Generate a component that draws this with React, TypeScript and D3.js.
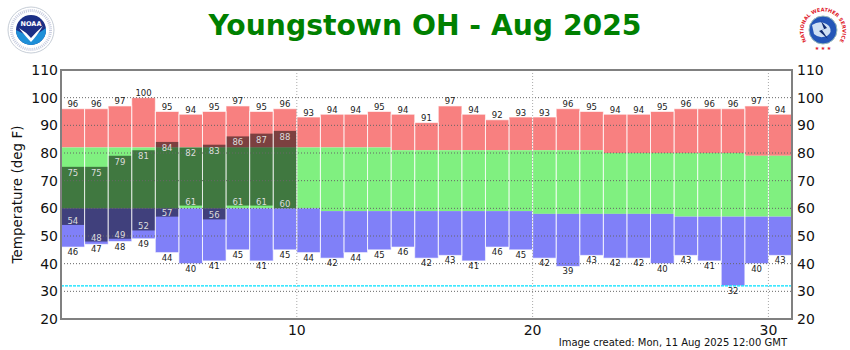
import React from "react";
import * as d3 from "d3";

// daily climate data for Aug 2025
const days = d3.range(1, 32);
const recordHigh = [96, 96, 97, 100, 95, 94, 95, 97, 95, 96, 93, 94, 94, 95, 94, 91, 97, 94, 92, 93, 93, 96, 95, 94, 94, 95, 96, 96, 96, 97, 94];
const recordLow = [46, 47, 48, 49, 44, 40, 41, 45, 41, 45, 44, 42, 44, 45, 46, 42, 43, 41, 46, 45, 42, 39, 43, 42, 42, 40, 43, 41, 32, 40, 43];
const normalHigh = [82, 82, 82, 82, 82, 82, 82, 82, 82, 82, 82, 82, 82, 82, 81, 81, 81, 81, 81, 81, 81, 81, 81, 80, 80, 80, 80, 80, 80, 79, 79];
const normalLow = [60, 60, 60, 60, 60, 60, 60, 60, 60, 60, 60, 59, 59, 59, 59, 59, 59, 59, 59, 59, 58, 58, 58, 58, 58, 58, 57, 57, 57, 57, 57];
const actualHigh = [75, 75, 79, 81, 84, 82, 83, 86, 87, 88];
const actualLow = [54, 48, 49, 52, 57, 61, 56, 61, 61, 60];
const yTicks = [20, 30, 40, 50, 60, 70, 80, 90, 100, 110];
const xTicks = [10, 20, 30];

const W = 850;
const H = 350;
const margin = { top: 70, right: 58, bottom: 31, left: 61 };
const font = "DejaVu Sans, Verdana, sans-serif";

const x = d3.scaleLinear().domain([0, 31]).range([margin.left, W - margin.right]);
const y = d3.scaleLinear().domain([20, 110]).range([H - margin.bottom, margin.top]);

const NoaaLogo = () => (
    <g transform="translate(31,30)">
        <circle r={23} fill="#fff" stroke="#b8c0cc" strokeWidth={0.8} />
        <circle r={19.5} fill="none" stroke="#c8cde0" strokeWidth={3} strokeDasharray="1,1" />
        <clipPath id="noaaClip"><circle r={15} /></clipPath>
        <g clipPath="url(#noaaClip)">
            <rect x={-15} y={-15} width={30} height={30} fill="#1b2f86" />
            <path d="M-15,0 Q-7,3 0,9 Q7,3 15,-2 L15,15 L-15,15 Z" fill="#1e8fd8" />
            <path d="M-12,-2 Q-5,2 0,8 Q5,2 12,-4 Q5,7 0,12 Q-5,7 -12,-2 Z" fill="#fff" />
        </g>
        <text y={-4} textAnchor="middle" fontSize={6.5} fontWeight="bold" fill="#fff" fontFamily={font}>NOAA</text>
    </g>
);

const NwsLogo = () => (
    <g transform="translate(823,30)">
        <defs>
            <path id="nwsArc" d="M-16,12 A19.5,19.5 0 1,1 16,12" />
        </defs>
        <circle r={22} fill="#fff" />
        <text fontSize={5} fontWeight="bold" fill="#e0202a" fontFamily={font}>
            <textPath href="#nwsArc" startOffset="50%" textAnchor="middle">NATIONAL WEATHER SERVICE</textPath>
        </text>
        <circle r={14} fill="#2456b8" stroke="#9bb" strokeWidth={1} />
        <path d="M-11,-5 Q-2,-11 6,-4 Q10,2 4,6 Q-4,9 -9,4 Z" fill="#cfe0f4" />
        <path d="M-2,-9 L4,-2 L-1,0 L5,9 L-4,1 L1,-1 Z" fill="#102a70" />
        <text y={20} textAnchor="middle" fontSize={5} fill="#e0202a">★ ★ ★</text>
    </g>
);

export default function App() {
    const step = x(1) - x(0);
    const labelFont = 8.5;

    return (
        <svg width={W} height={H} style={{ position: "absolute", left: 0, top: 0, display: "block" }} fontFamily={font}>
            <rect width={W} height={H} fill="#fff" />
            <NoaaLogo />
            <NwsLogo />
            <text x={425} y={35} textAnchor="middle" fontSize={29} fontWeight="bold" fill="#008000"
                textLength={433} lengthAdjust="spacingAndGlyphs">
                Youngstown OH - Aug 2025
            </text>

            {/* normal / record bars */}
            {days.map((d, i) => {
                const x0 = x(d - 1);
                return (
                    <g key={"b" + d}>
                        <rect x={x0} width={step} y={y(recordHigh[i])} height={y(normalHigh[i]) - y(recordHigh[i])} fill="#f88080" />
                        <rect x={x0} width={step} y={y(normalHigh[i])} height={y(normalLow[i]) - y(normalHigh[i])} fill="#80f080" />
                        <rect x={x0} width={step} y={y(normalLow[i])} height={y(recordLow[i]) - y(normalLow[i])} fill="#8080f8" />
                    </g>
                );
            })}

            {/* observed range */}
            {actualHigh.map((hi, i) => (
                <rect key={"a" + i} x={x(i)} width={step} y={y(hi)} height={y(actualLow[i]) - y(hi)} fill="#000" fillOpacity={0.5} />
            ))}

            {/* bar outlines */}
            {days.map((d, i) => (
                <rect key={"o" + d} x={x(d - 1)} width={step} y={y(recordHigh[i])} height={y(recordLow[i]) - y(recordHigh[i])}
                    fill="none" stroke="#fff" strokeOpacity={0.6} strokeWidth={1} />
            ))}

            {/* grid */}
            {yTicks.filter(t => t > 20 && t < 110).map(t => (
                <line key={"gy" + t} x1={margin.left} x2={W - margin.right} y1={y(t)} y2={y(t)} stroke="#666" strokeWidth={1} strokeDasharray="1,2" />
            ))}
            {xTicks.map(t => (
                <line key={"gx" + t} x1={x(t)} x2={x(t)} y1={margin.top} y2={H - margin.bottom} stroke="#aaa" strokeWidth={1} strokeDasharray="1,2" />
            ))}
            <line x1={margin.left} x2={W - margin.right} y1={y(32)} y2={y(32)} stroke="#00e0ff" strokeWidth={1.2} strokeDasharray="3,1" />

            {/* value labels */}
            {days.map((d, i) => {
                const cx = x(d - 0.5);
                return (
                    <g key={"l" + d} fontSize={labelFont} textAnchor="middle" fill="#222">
                        <text x={cx} y={y(recordHigh[i]) - 1.5}>{recordHigh[i]}</text>
                        <text x={cx} y={y(recordLow[i]) + 8}>{recordLow[i]}</text>
                    </g>
                );
            })}
            {actualHigh.map((hi, i) => {
                const cx = x(i + 0.5);
                return (
                    <g key={"al" + i} fontSize={labelFont} textAnchor="middle" fill="#ddd">
                        <text x={cx} y={y(hi) + 9}>{hi}</text>
                        <text x={cx} y={y(actualLow[i]) - 1}>{actualLow[i]}</text>
                    </g>
                );
            })}

            {/* frame */}
            <rect x={margin.left} y={margin.top} width={W - margin.left - margin.right} height={H - margin.top - margin.bottom}
                fill="none" stroke="#808080" strokeWidth={2} />

            {/* axes labels */}
            {yTicks.map(t => (
                <g key={"yt" + t} fontSize={14} fill="#111">
                    <text x={58} y={y(t) + 5} textAnchor="end">{t}</text>
                    <text x={797} y={y(t) + 5} textAnchor="start">{t}</text>
                </g>
            ))}
            {xTicks.map(t => (
                <text key={"xt" + t} x={x(t)} y={335} textAnchor="middle" fontSize={14} fill="#111">{t}</text>
            ))}
            <text transform={`translate(22,${(margin.top + H - margin.bottom) / 2}) rotate(-90)`} textAnchor="middle" fontSize={13.5} fill="#111">
                Temperature (deg F)
            </text>
            <text x={787} y={346} textAnchor="end" fontSize={10} fill="#111">Image created: Mon, 11 Aug 2025 12:00 GMT</text>
        </svg>
    );
}
